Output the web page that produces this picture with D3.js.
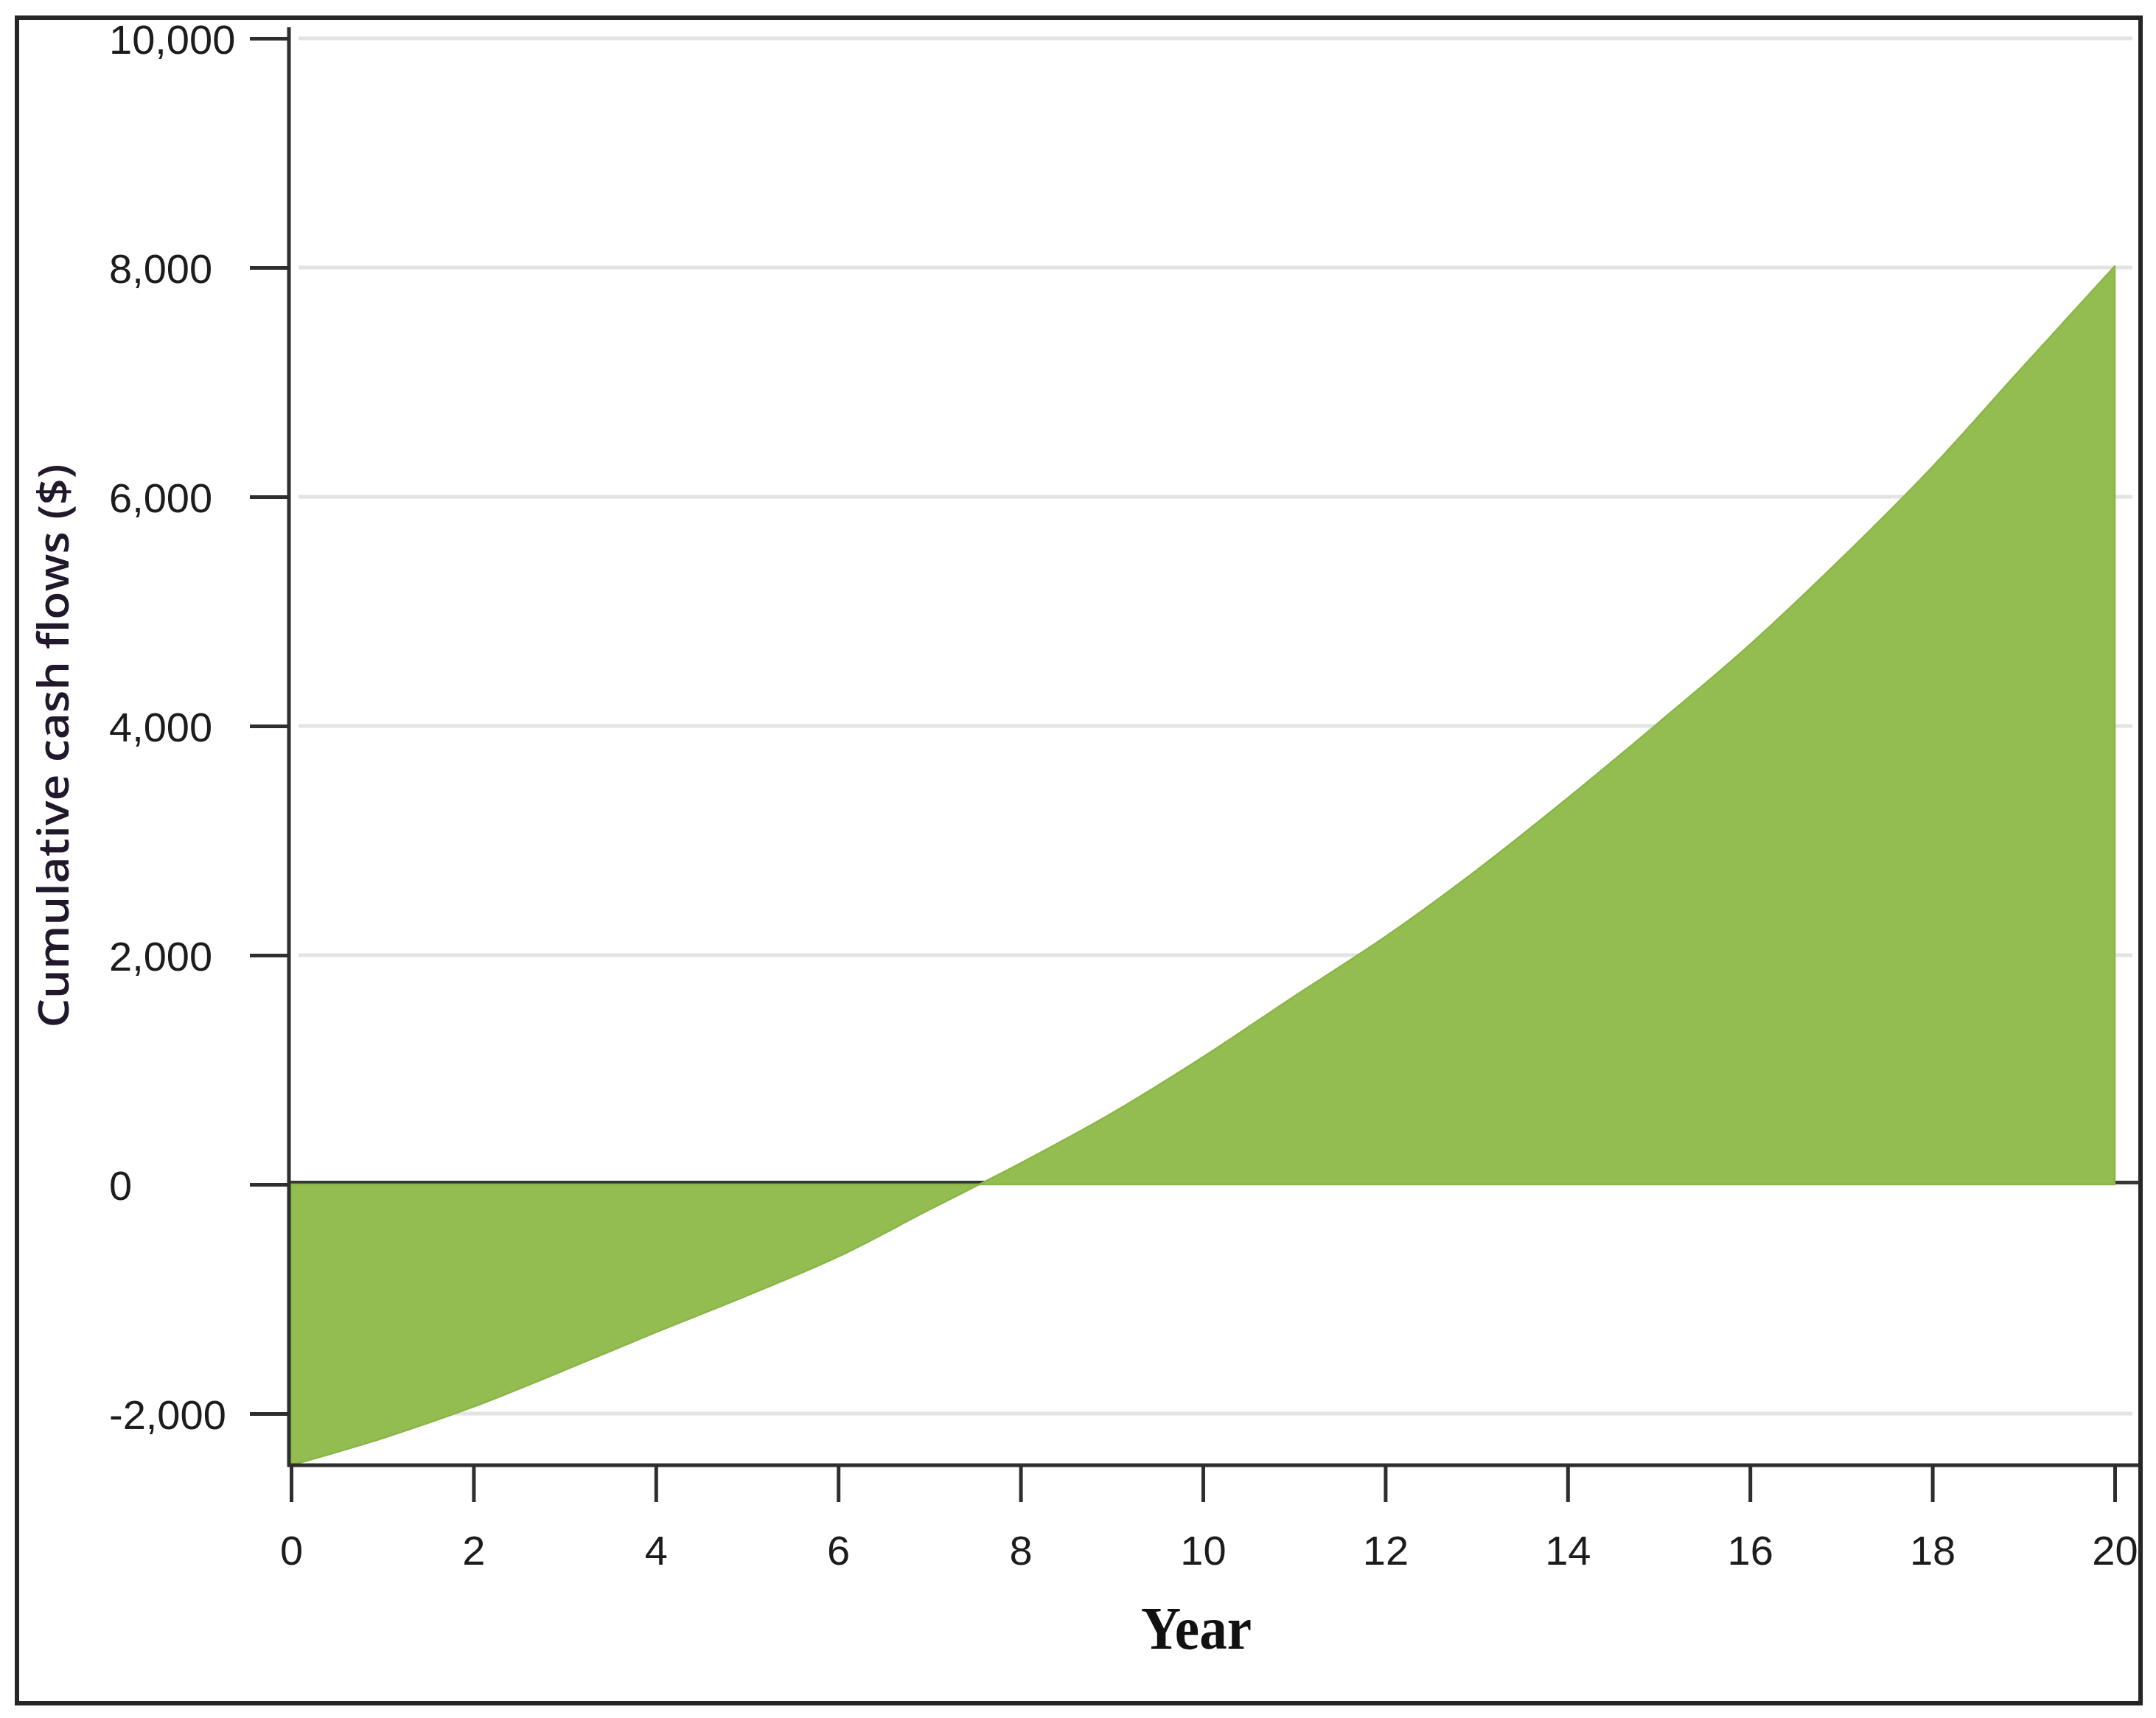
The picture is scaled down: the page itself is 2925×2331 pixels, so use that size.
<!DOCTYPE html>
<html>
<head>
<meta charset="utf-8">
<script src="https://cdn.jsdelivr.net/npm/d3@7"></script>
<style>
  html, body { margin: 0; padding: 0; background: #ffffff; }
  svg { display: block; }
</style>
</head>
<body>
<svg id="chart" width="2925" height="2331"></svg>
<script>
// ---- Data ----
const years = [0, 1, 2, 3, 4, 5, 6, 7, 8, 9, 10, 11, 12, 13, 14, 15, 16, 17, 18, 19, 20];
const cumulativeCashFlow = [-2450, -2215, -1940, -1620, -1290, -970, -630, -220, 185, 620, 1110,
                            1640, 2160, 2740, 3370, 4030, 4710, 5460, 6260, 7140, 8010];
const yTickValues = [-2000, 0, 2000, 4000, 6000, 8000, 10000];
const xTickValues = [0, 2, 4, 6, 8, 10, 12, 14, 16, 18, 20];
const yAxisTitle = "Cumulative cash flows ($)";
const xAxisTitle = "Year";

// ---- Layout ----
const svg = d3.select("#chart");
const axisX = 392, axisBottom = 1988, axisTop = 37, rightEdge = 2902;
const x = d3.scaleLinear().domain([0, 20]).range([395, 2869]);
const y = d3.scaleLinear().domain([-2450, 10000]).range([axisBottom, 52]);
const fmtBase = d3.format(",");
const fmt = v => fmtBase(v).replace("\u2212", "-");
const dark = "#2e2e2e";
const green = "#93bd51";

// outer frame
svg.append("rect")
  .attr("x", 23).attr("y", 24).attr("width", 2881).attr("height", 2287)
  .attr("fill", "#fff").attr("stroke", "#262626").attr("stroke-width", 6);

// grid lines
svg.append("g").selectAll("line")
  .data(yTickValues.filter(v => v !== 0))
  .join("line")
  .attr("x1", 405).attr("x2", 2893)
  .attr("y1", d => y(d)).attr("y2", d => y(d))
  .attr("stroke", "#e3e3e3").attr("stroke-width", 5);

// zero line (sits just above the zero level, covered by the positive area)
svg.append("line")
  .attr("x1", axisX).attr("x2", rightEdge)
  .attr("y1", y(0) - 2.5).attr("y2", y(0) - 2.5)
  .attr("stroke", "#333833").attr("stroke-width", 5);

// area
const area = d3.area()
  .x((d, i) => x(years[i]))
  .y0(y(0))
  .y1(d => y(d))
  .curve(d3.curveMonotoneX);

svg.append("path")
  .datum(cumulativeCashFlow)
  .attr("d", area)
  .attr("fill", green)
  .attr("stroke", "#8ab648")
  .attr("stroke-width", 2.5)
  .attr("stroke-linejoin", "round");

// Y axis
const yAxis = d3.axisLeft(y).tickValues(yTickValues).tickFormat(fmt).tickSize(53).tickSizeOuter(0);
const gy = svg.append("g").attr("transform", `translate(${axisX},0)`).call(yAxis);
gy.select(".domain").remove();
gy.selectAll(".tick line").attr("stroke", dark).attr("stroke-width", 5);
gy.selectAll(".tick text")
  .attr("x", 148 - axisX)
  .attr("dy", "0.36em")
  .attr("text-anchor", "start")
  .attr("fill", "#1c1c1c")
  .style("font-family", "'Liberation Sans', Arial, sans-serif")
  .style("font-size", "56px");
svg.append("line")
  .attr("x1", axisX).attr("x2", axisX)
  .attr("y1", axisTop).attr("y2", axisBottom + 2)
  .attr("stroke", dark).attr("stroke-width", 5);

// X axis
const xAxis = d3.axisBottom(x).tickValues(xTickValues).tickFormat(d3.format("d")).tickSize(50).tickSizeOuter(0);
const gx = svg.append("g").attr("transform", `translate(0,${axisBottom})`).call(xAxis);
gx.select(".domain").remove();
gx.selectAll(".tick line").attr("stroke", dark).attr("stroke-width", 5);
gx.selectAll(".tick text")
  .attr("y", 115)
  .attr("dy", "0.36em")
  .attr("fill", "#1c1c1c")
  .style("font-family", "'Liberation Sans', Arial, sans-serif")
  .style("font-size", "56px");
svg.append("line")
  .attr("x1", axisX - 2).attr("x2", rightEdge)
  .attr("y1", axisBottom).attr("y2", axisBottom)
  .attr("stroke", dark).attr("stroke-width", 5);

// axis titles
svg.append("text")
  .attr("transform", `translate(93,1012) rotate(-90)`)
  .attr("text-anchor", "middle")
  .attr("textLength", 765)
  .attr("lengthAdjust", "spacingAndGlyphs")
  .attr("fill", "#22182c")
  .style("font-family", "'Liberation Sans Narrow', 'Open Sans', sans-serif")
  .style("font-weight", "600")
  .style("font-size", "58px")
  .text(yAxisTitle);

svg.append("text")
  .attr("x", 1623).attr("y", 2237)
  .attr("text-anchor", "middle")
  .attr("textLength", 150)
  .attr("lengthAdjust", "spacingAndGlyphs")
  .attr("fill", "#111")
  .style("font-family", "'Liberation Serif', 'Times New Roman', serif")
  .style("font-weight", "bold")
  .style("font-size", "82px")
  .text(xAxisTitle);
</script>
</body>
</html>
